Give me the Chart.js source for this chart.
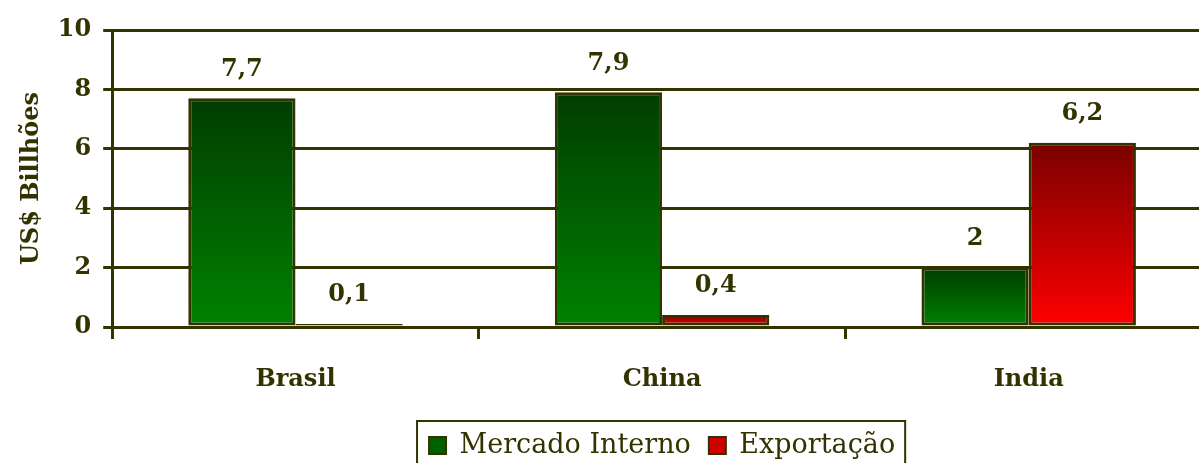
<!DOCTYPE html>
<html>
<head>
<meta charset="utf-8">
<script src="https://cdn.jsdelivr.net/npm/chart.js@4.4.1/dist/chart.umd.min.js"></script>
<style>
  html, body { margin: 0; padding: 0; background: #ffffff; overflow: hidden; }
  #wrap { width: 1212px; height: 469px; position: relative; }
</style>
</head>
<body>
<div id="wrap"><canvas id="graph"></canvas></div>
<script>
var paises = ['Brasil', 'China', 'India'];
var mercadoInterno = [7.7, 7.9, 2];
var exportacao = [0.1, 0.4, 6.2];
var yTicks = [0, 2, 4, 6, 8, 10];

var oliva = '#333300';
var fonte = "'DejaVu Serif', serif";

// gradiente vertical dentro de cada barra (escuro em cima, claro embaixo)
function gradiente(topo, base) {
    return function (ctx) {
        var chart = ctx.chart;
        if (!chart.chartArea || !ctx.parsed) return base;
        var y = chart.scales.y;
        var y0 = y.getPixelForValue(ctx.parsed.y);
        var y1 = y.getPixelForValue(0);
        if (y1 - y0 < 1) y0 = y1 - 1;
        var g = chart.ctx.createLinearGradient(0, y0, 0, y1);
        g.addColorStop(0, topo);
        g.addColorStop(1, base);
        return g;
    };
}

// rotulos de valor acima das barras
var rotulos = {
    id: 'rotulos',
    afterDatasetsDraw: function (chart) {
        var c = chart.ctx;
        c.save();
        c.font = 'bold 24px ' + fonte;
        c.fillStyle = oliva;
        c.textAlign = 'center';
        c.textBaseline = 'middle';
        chart.data.datasets.forEach(function (ds, i) {
            chart.getDatasetMeta(i).data.forEach(function (bar, j) {
                c.fillText(String(ds.data[j]).replace('.', ','), bar.x, bar.y - 29);
            });
        });
        c.restore();
    }
};

// moldura da legenda
var moldura = {
    id: 'moldura',
    afterDraw: function (chart) {
        var lg = chart.legend;
        if (!lg || !lg.legendHitBoxes.length) return;
        var first = lg.legendHitBoxes[0];
        var last = lg.legendHitBoxes[lg.legendHitBoxes.length - 1];
        var c = chart.ctx;
        c.save();
        c.strokeStyle = oliva;
        c.lineWidth = 2;
        c.strokeRect(first.left - 12, first.top - 11, last.left + last.width - first.left + 22, 80);
        c.restore();
    }
};

var graph_context = document.getElementById('graph').getContext('2d');
var graph = new Chart(graph_context, {
    type: 'bar',
    data: {
        labels: paises,
        datasets: [{
            label: 'Mercado Interno',
            data: mercadoInterno,
            backgroundColor: gradiente('#003d00', '#008200'),
            borderColor: oliva,
            borderWidth: 3,
            borderSkipped: false
        }, {
            label: 'Exportação',
            data: exportacao,
            backgroundColor: gradiente('#7a0000', '#ff0000'),
            borderColor: oliva,
            borderWidth: 3,
            borderSkipped: false
        }]
    },
    options: {
        responsive: true,
        maintainAspectRatio: false,
        animation: false,
        layout: { padding: { top: 30, left: 17, right: 0, bottom: 0 } },
        datasets: { bar: { barPercentage: 1, categoryPercentage: 0.585 } },
        plugins: {
            tooltip: { enabled: false },
            legend: {
                position: 'bottom',
                fullSize: false,
                labels: {
                    color: oliva,
                    font: { family: fonte, size: 27 },
                    boxWidth: 17,
                    boxHeight: 17,
                    padding: 18,
                    generateLabels: function (chart) {
                        return [
                            { text: 'Mercado Interno', fillStyle: '#006000', strokeStyle: oliva, lineWidth: 2, datasetIndex: 0, fontColor: oliva },
                            { text: 'Exportação', fillStyle: '#d00000', strokeStyle: oliva, lineWidth: 2, datasetIndex: 1, fontColor: oliva }
                        ];
                    }
                }
            }
        },
        scales: {
            x: {
                offset: true,
                afterFit: function (axis) { axis.height = 87; },
                grid: { offset: true, drawOnChartArea: false, drawTicks: true, tickLength: 12, color: oliva, lineWidth: 3 },
                border: { color: oliva, width: 3 },
                ticks: { color: oliva, font: { family: fonte, size: 24, weight: 'bold' }, padding: 26 }
            },
            y: {
                min: 0,
                max: 10,
                afterBuildTicks: function (axis) {
                    axis.ticks = yTicks.map(function (v) { return { value: v }; });
                },
                grid: { color: oliva, lineWidth: 3, tickLength: 9 },
                border: { color: oliva, width: 3 },
                ticks: { color: oliva, font: { family: fonte, size: 24, weight: 'bold' }, padding: 12 },
                title: {
                    display: true,
                    text: 'US$ Billhões',
                    color: oliva,
                    font: { family: fonte, size: 24, weight: 'bold' },
                    padding: { top: 0, bottom: 0 }
                }
            }
        }
    },
    plugins: [rotulos, moldura]
});
</script>
</body>
</html>
